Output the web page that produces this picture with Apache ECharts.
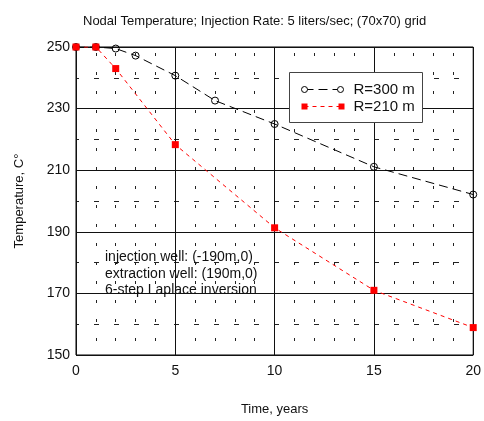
<!DOCTYPE html>
<html>
<head>
<meta charset="utf-8">
<script src="https://cdn.jsdelivr.net/npm/echarts@6/dist/echarts.min.js"></script>
<style>
  html, body { margin: 0; padding: 0; background: #fff; }
  #chart { width: 484px; height: 421px; }
</style>
</head>
<body>
<div id="chart"></div>
<script>
// R=300 m curve (time in years, nodal temperature in C)
var years300 = [0, 1, 2, 3, 5, 7, 10, 15, 20];
var temp300 = [250, 250, 249.5, 247.2, 240.7, 232.6, 225.0, 211.1, 202.1];
// R=210 m curve
var years210 = [0, 1, 2, 5, 10, 15, 20];
var temp210 = [250, 250, 243.0, 218.3, 191.3, 171.0, 158.9];

var seriesNames = ['R=300 m', 'R=210 m'];
var noteLines = ['injection well: (-190m,0)', 'extraction well: (190m,0)', '6-step Laplace inversion'];

var font = 'Liberation Sans, Arial, sans-serif';

function pairs(xs, ys) {
    return xs.map(function (x, i) { return [x, ys[i]]; });
}

var chart = echarts.init(document.getElementById('chart'), null, { renderer: 'canvas' });

chart.setOption({
    animation: false,
    backgroundColor: '#fff',
    title: {
        text: 'Nodal Temperature; Injection Rate: 5 liters/sec; (70x70) grid',
        left: 78,
        top: 10,
        textStyle: { fontFamily: font, fontSize: 13, fontWeight: 'normal', color: '#111' }
    },
    grid: {
        left: 76, right: 8, top: 47, bottom: 66,
        show: true, borderColor: '#000', borderWidth: 1
    },
    xAxis: {
        type: 'value',
        min: 0, max: 20, interval: 5,
        name: 'Time, years',
        nameLocation: 'middle',
        nameGap: 48,
        nameTextStyle: { fontFamily: font, fontSize: 13, color: '#111' },
        axisLine: { show: false },
        axisTick: { show: false },
        axisLabel: { fontFamily: font, fontSize: 14, color: '#111', margin: 9 },
        splitLine: { show: true, lineStyle: { color: '#111', width: 1 } },
        minorTick: { show: false, splitNumber: 5 },
        minorSplitLine: { show: true, lineStyle: { color: '#222', width: 1, type: [3, 16], dashOffset: -6 } }
    },
    yAxis: {
        type: 'value',
        min: 150, max: 250, interval: 20,
        name: 'Temperature, C\u00b0',
        nameLocation: 'middle',
        nameGap: 50,
        nameTextStyle: { fontFamily: font, fontSize: 13, color: '#111' },
        axisLine: { show: false },
        axisTick: { show: false },
        axisLabel: { fontFamily: font, fontSize: 14, color: '#111', margin: 6 },
        splitLine: { show: true, lineStyle: { color: '#111', width: 1 } },
        minorTick: { show: false, splitNumber: 2 },
        minorSplitLine: { show: true, lineStyle: { color: '#222', width: 1, type: [5, 15], dashOffset: 2 } }
    },
    series: [
        {
            name: seriesNames[0],
            type: 'line',
            data: pairs(years300, temp300),
            smooth: false,
            symbol: 'circle',
            symbolSize: 7,
            showAllSymbol: true,
            lineStyle: { color: '#000', width: 1, type: [9, 5] },
            itemStyle: { color: 'rgba(0,0,0,0)', borderColor: '#000', borderWidth: 1 },
            z: 3
        },
        {
            name: seriesNames[1],
            type: 'line',
            data: pairs(years210, temp210),
            smooth: false,
            symbol: 'rect',
            symbolSize: 7,
            showAllSymbol: true,
            lineStyle: { color: '#f00', width: 1, type: [4, 4] },
            itemStyle: { color: '#f00' },
            z: 4
        }
    ],
    graphic: [
        // legend box
        {
            type: 'group', left: 289, top: 72, z: 100,
            children: [
                { type: 'rect', z: 100, shape: { x: 0, y: 0, width: 133, height: 50 },
                  style: { fill: '#fff', stroke: '#444', lineWidth: 1 } },
                { type: 'line', z: 101, shape: { x1: 15, y1: 17, x2: 51, y2: 17 },
                  style: { stroke: '#000', lineWidth: 1, lineDash: [9, 5] } },
                { type: 'circle', z: 102, shape: { cx: 15, cy: 17, r: 3 },
                  style: { fill: '#fff', stroke: '#000', lineWidth: 1 } },
                { type: 'circle', z: 102, shape: { cx: 51, cy: 17, r: 3 },
                  style: { fill: '#fff', stroke: '#000', lineWidth: 1 } },
                { type: 'text', z: 102, x: 64, y: 17,
                  style: { text: seriesNames[0], font: '15px ' + font, fill: '#111', verticalAlign: 'middle' } },
                { type: 'line', z: 101, shape: { x1: 15, y1: 34, x2: 51, y2: 34 },
                  style: { stroke: '#f00', lineWidth: 1, lineDash: [4, 4] } },
                { type: 'rect', z: 102, shape: { x: 12, y: 31, width: 6, height: 6 },
                  style: { fill: '#f00' } },
                { type: 'rect', z: 102, shape: { x: 49, y: 31, width: 6, height: 6 },
                  style: { fill: '#f00' } },
                { type: 'text', z: 102, x: 64, y: 34,
                  style: { text: seriesNames[1], font: '15px ' + font, fill: '#111', verticalAlign: 'middle' } }
            ]
        },
        // annotation
        {
            type: 'text', left: 105, top: 249, z: 100,
            style: {
                text: noteLines.join('\n'),
                font: '14px ' + font,
                lineHeight: 16.5,
                fill: '#111'
            }
        }
    ]
});
</script>
</body>
</html>
